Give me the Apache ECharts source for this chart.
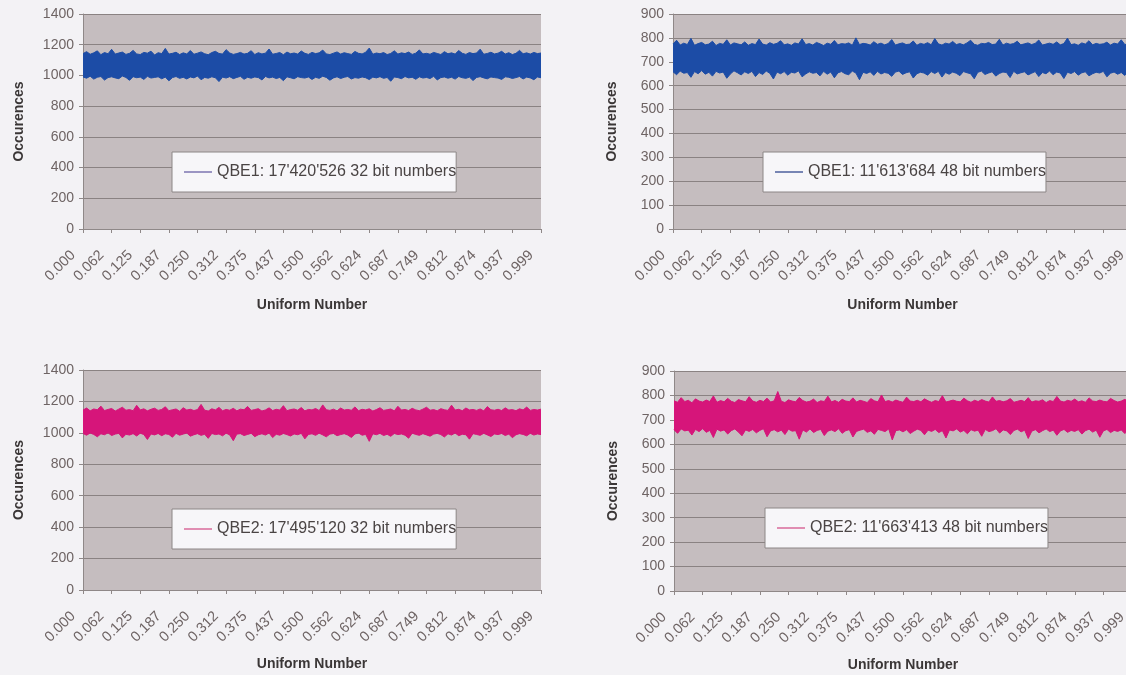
<!DOCTYPE html>
<html>
<head>
<meta charset="utf-8">
<script src="https://cdn.jsdelivr.net/npm/echarts@6/dist/echarts.min.js"></script>
<style>
html,body{margin:0;padding:0;background:#f3f2f5;}
#c{width:1126px;height:675px;}
</style>
</head>
<body>
<div id="c"></div>
<script>
// ---- data (per-slice upper / lower edge of the noise band) ----
const tickLabels = ['0.000','0.062','0.125','0.187','0.250','0.312','0.375','0.437','0.500','0.562','0.624','0.687','0.749','0.812','0.874','0.937','0.999'];
const seriesNames = ["QBE1: 17'420'526 32 bit numbers", "QBE1: 11'613'684 48 bit numbers", "QBE2: 17'495'120 32 bit numbers", "QBE2: 11'663'413 48 bit numbers"];

const blue32Hi = [1142,1155,1138,1147,1160,1135,1149,1141,1170,1139,1146,1152,1137,1144,1163,1140,1136,1150,1145,1158,1133,1148,1142,1176,1139,1144,1151,1136,1147,1140,1162,1138,1145,1153,1141,1135,1149,1157,1143,1139,
1168,1146,1137,1142,1150,1139,1144,1161,1136,1148,1140,1145,1172,1138,1143,1149,1135,1152,1141,1146,1139,1159,1144,1137,1150,1142,1147,1165,1140,1136,
1145,1153,1139,1148,1142,1137,1156,1144,1140,1151,1178,1138,1146,1141,1149,1136,1143,1160,1139,1147,1142,1152,1137,1145,1166,1140,1144,1138,1150,1143,
1136,1155,1141,1147,1139,1162,1144,1137,1149,1142,1146,1171,1138,1143,1151,1140,1145,1157,1139,1148,1136,1144,1163,1141,1147,1139,1150,1142,1146];
const blue32Lo = [990,982,995,976,988,993,970,986,991,984,979,996,987,968,992,985,989,974,994,983,
987,991,978,989,965,986,993,981,988,977,990,984,996,972,987,982,991,985,960,989,
983,992,979,987,994,975,988,982,990,986,971,993,984,989,980,987,966,991,985,978,
992,986,983,990,974,988,981,995,987,969,984,991,980,988,993,977,986,982,990,985,
973,989,984,992,981,987,962,990,986,979,993,984,988,975,991,983,987,980,994,971,
986,990,982,988,976,993,985,981,989,967,987,992,984,978,990,986,983,974,991,988,
980,986,993,977,989,984,972,990,985];

const blue48Hi = [775,790,770,778,772,798,769,776,781,771,774,786,768,777,773,792,770,779,775,771,
783,769,776,772,795,774,770,780,773,777,788,771,775,769,779,774,796,772,776,770,
781,775,768,778,773,789,771,776,774,779,769,800,772,777,775,770,784,773,778,771,
776,793,770,775,779,772,774,787,769,777,773,780,771,797,775,770,778,774,785,772,
776,771,779,790,773,769,777,775,781,772,774,794,770,778,773,776,786,771,775,779,
772,777,791,770,774,778,773,783,771,776,799,772,775,769,779,774,788,771,777,773,
775,782,770,778,774,792,772,776,780];
const blue48Lo = [658,646,661,652,655,635,659,650,663,648,656,640,660,653,657,631,649,662,654,645,
658,651,660,638,655,647,661,652,628,657,650,659,644,656,653,662,637,649,658,652,
655,641,660,648,657,633,654,659,650,646,661,653,625,656,651,658,643,660,649,655,
652,639,657,661,647,654,658,632,650,656,653,644,659,651,660,636,655,648,657,652,
642,659,654,650,629,656,661,647,653,658,640,651,657,655,634,660,649,654,658,645,
652,659,638,655,650,661,646,657,653,630,656,651,659,644,654,658,641,650,656,653,
660,637,652,657,648,655,643,659,651];

const pink32Hi = [1145,1158,1140,1152,1147,1170,1142,1149,1155,1139,1151,1163,1144,1148,1141,1175,1146,1153,1140,1150,
1157,1143,1149,1166,1141,1147,1152,1138,1160,1145,1150,1142,1148,1181,1144,1139,1153,1146,1162,1141,
1149,1144,1156,1140,1151,1147,1168,1143,1148,1154,1139,1146,1159,1142,1150,1145,1173,1141,1148,1152,
1144,1161,1140,1149,1146,1155,1142,1178,1147,1143,1151,1140,1158,1145,1149,1144,1165,1141,1150,1146,
1153,1139,1148,1160,1143,1147,1152,1140,1169,1145,1149,1142,1156,1146,1141,1151,1163,1144,1148,1140,
1154,1147,1143,1176,1145,1150,1141,1158,1146,1149,1143,1152,1140,1167,1147,1144,1150,1142,1159,1145,
1148,1141,1153,1146,1164,1143,1149,1145,1151];
const pink32Lo = [996,985,999,990,975,994,988,1000,983,992,997,968,991,986,995,980,998,989,958,993,
987,996,982,994,990,972,997,985,992,999,979,988,995,984,991,965,996,989,993,981,
998,987,950,992,995,983,990,997,976,988,994,986,999,970,991,985,996,989,980,993,
988,997,962,990,994,984,998,987,975,992,996,982,989,995,986,971,993,999,985,990,
946,994,988,997,983,991,978,996,989,993,985,966,998,990,984,995,987,979,992,997,
989,974,994,986,999,982,991,988,960,995,990,984,997,987,977,993,989,996,983,992,
969,988,995,990,981,997,986,993,989];

const pink48Hi = [778,772,791,775,780,770,786,777,773,781,775,798,772,779,774,788,776,771,783,778,
774,795,777,772,780,775,789,773,778,816,776,771,782,777,774,792,779,773,776,785,
771,778,775,797,774,779,772,784,777,775,790,773,780,776,771,787,778,774,802,775,
779,773,781,776,772,793,777,775,780,774,786,778,772,779,775,799,773,777,781,776,
774,789,778,772,780,775,783,777,773,794,776,779,774,778,787,772,776,780,775,791,
773,778,776,782,771,779,775,796,777,773,780,776,785,774,778,772,790,777,775,781,
776,774,788,779,773,777,784,775,778];
const pink48Lo = [660,645,663,655,658,638,661,652,664,649,657,628,662,654,659,642,656,663,650,635,
659,653,661,647,657,664,631,655,660,651,658,640,662,654,656,621,659,650,663,648,
657,661,636,654,659,652,664,645,656,660,630,653,658,662,649,655,641,661,657,652,
663,618,656,659,651,660,644,654,662,657,639,658,653,661,648,656,626,659,655,663,
650,657,643,660,654,658,633,661,652,656,664,646,659,655,640,657,662,651,658,624,
654,660,647,656,663,652,658,637,655,661,649,657,653,660,642,656,662,650,658,629,
655,661,648,657,653,659,644,660,656];

// ---- layout / style ----
const FONT = 'Liberation Sans, Arial, sans-serif';
const BLUE = '#1c4ca6', PINK = '#d6157a';
const panels = [
  {hi: blue32Hi, lo: blue32Lo, color: BLUE, legendColor:'#7d74b0', ymax:1400, step:200, xGap:69, yGap:57, grid:{left:83, top:14, width:458, height:215}, legend:{left:172, top:152}},
  {hi: blue48Hi, lo: blue48Lo, color: BLUE, legendColor:'#4d5f9c', ymax:900, step:100, xGap:69, yGap:54, grid:{left:673, top:14, width:459, height:215}, legend:{left:763, top:152}},
  {hi: pink32Hi, lo: pink32Lo, color: PINK, legendColor:'#d86a9a', ymax:1400, step:200, xGap:67, yGap:57, grid:{left:83, top:370, width:458, height:220}, legend:{left:172, top:509}},
  {hi: pink48Hi, lo: pink48Lo, color: PINK, legendColor:'#d86a9a', ymax:900, step:100, xGap:67, yGap:54, grid:{left:674, top:371, width:458, height:220}, legend:{left:765, top:508}}
];

const option = {
  animation: false,
  backgroundColor: '#f3f2f5',
  grid: [], xAxis: [], yAxis: [], legend: [], series: []
};

panels.forEach((p, i) => {
  const n = Math.min(p.hi.length, p.lo.length);
  const per = (n - 1) / (tickLabels.length - 1);   // slices between labelled ticks
  const cats = [];
  const band = [];
  for (let k = 0; k < n; k++) { cats.push(String(k)); band.push(p.hi[k] - p.lo[k]); }

  option.grid.push(Object.assign({show:true, backgroundColor:'#c5bdbf', borderWidth:0, containLabel:false, outerBoundsMode:'none'}, p.grid));
  option.xAxis.push({
    type:'category', gridIndex:i, data:cats, boundaryGap:false,
    name:'Uniform Number', nameLocation:'middle', nameGap:p.xGap,
    nameTextStyle:{fontFamily:FONT, fontSize:14, fontWeight:'bold', color:'#3a3636'},
    axisLine:{show:true, lineStyle:{color:'#8f8888', width:1}},
    axisTick:{show:true, length:4, interval:per - 1, lineStyle:{color:'#8f8888'}},
    splitLine:{show:false},
    axisLabel:{rotate:45, margin:14, padding:[0,14,0,0], interval:per - 1, fontFamily:FONT, fontSize:14.5, color:'#6e6464',
      formatter: (v, idx) => (idx % per === 0 ? tickLabels[idx / per] : '')}
  });
  option.yAxis.push({
    type:'value', gridIndex:i, min:0, max:p.ymax, interval:p.step,
    name:'Occurences', nameLocation:'middle', nameGap:p.yGap, nameRotate:90,
    nameTextStyle:{fontFamily:FONT, fontSize:14, fontWeight:'bold', color:'#3a3636'},
    axisLine:{show:true, lineStyle:{color:'#8f8888', width:1}},
    axisTick:{show:true, length:4, lineStyle:{color:'#8f8888'}},
    splitLine:{show:true, lineStyle:{color:'#8a8282', width:1}},
    axisLabel:{margin:9, fontFamily:FONT, fontSize:14, color:'#6e6464', formatter: v => String(v)}
  });
  option.legend.push(Object.assign({
    data:[seriesNames[i]], orient:'horizontal', selectedMode:false,
    backgroundColor:'#f7f6f9', borderColor:'#8c8686', borderWidth:1, borderRadius:0,
    padding:[12,0,12,12], icon:'rect', itemWidth:28, itemHeight:1.5, itemGap:0,
    itemStyle:{color:p.legendColor},
    textStyle:{fontFamily:FONT, fontSize:16, color:'#4a4444'}
  }, p.legend));

  option.series.push({
    type:'line', name:'base'+i, xAxisIndex:i, yAxisIndex:i, stack:'s'+i,
    data:p.lo.slice(0, n), showSymbol:false, symbol:'none', silent:true,
    lineStyle:{color:p.color, width:1}, itemStyle:{color:p.color}
  });
  option.series.push({
    type:'line', name:seriesNames[i], xAxisIndex:i, yAxisIndex:i, stack:'s'+i,
    data:band, showSymbol:false, symbol:'none', silent:true,
    lineStyle:{color:p.color, width:1}, itemStyle:{color:p.color},
    areaStyle:{color:p.color, opacity:1}
  });
});

const chart = echarts.init(document.getElementById('c'), null, {renderer:'canvas'});
chart.setOption(option);
</script>
</body>
</html>
